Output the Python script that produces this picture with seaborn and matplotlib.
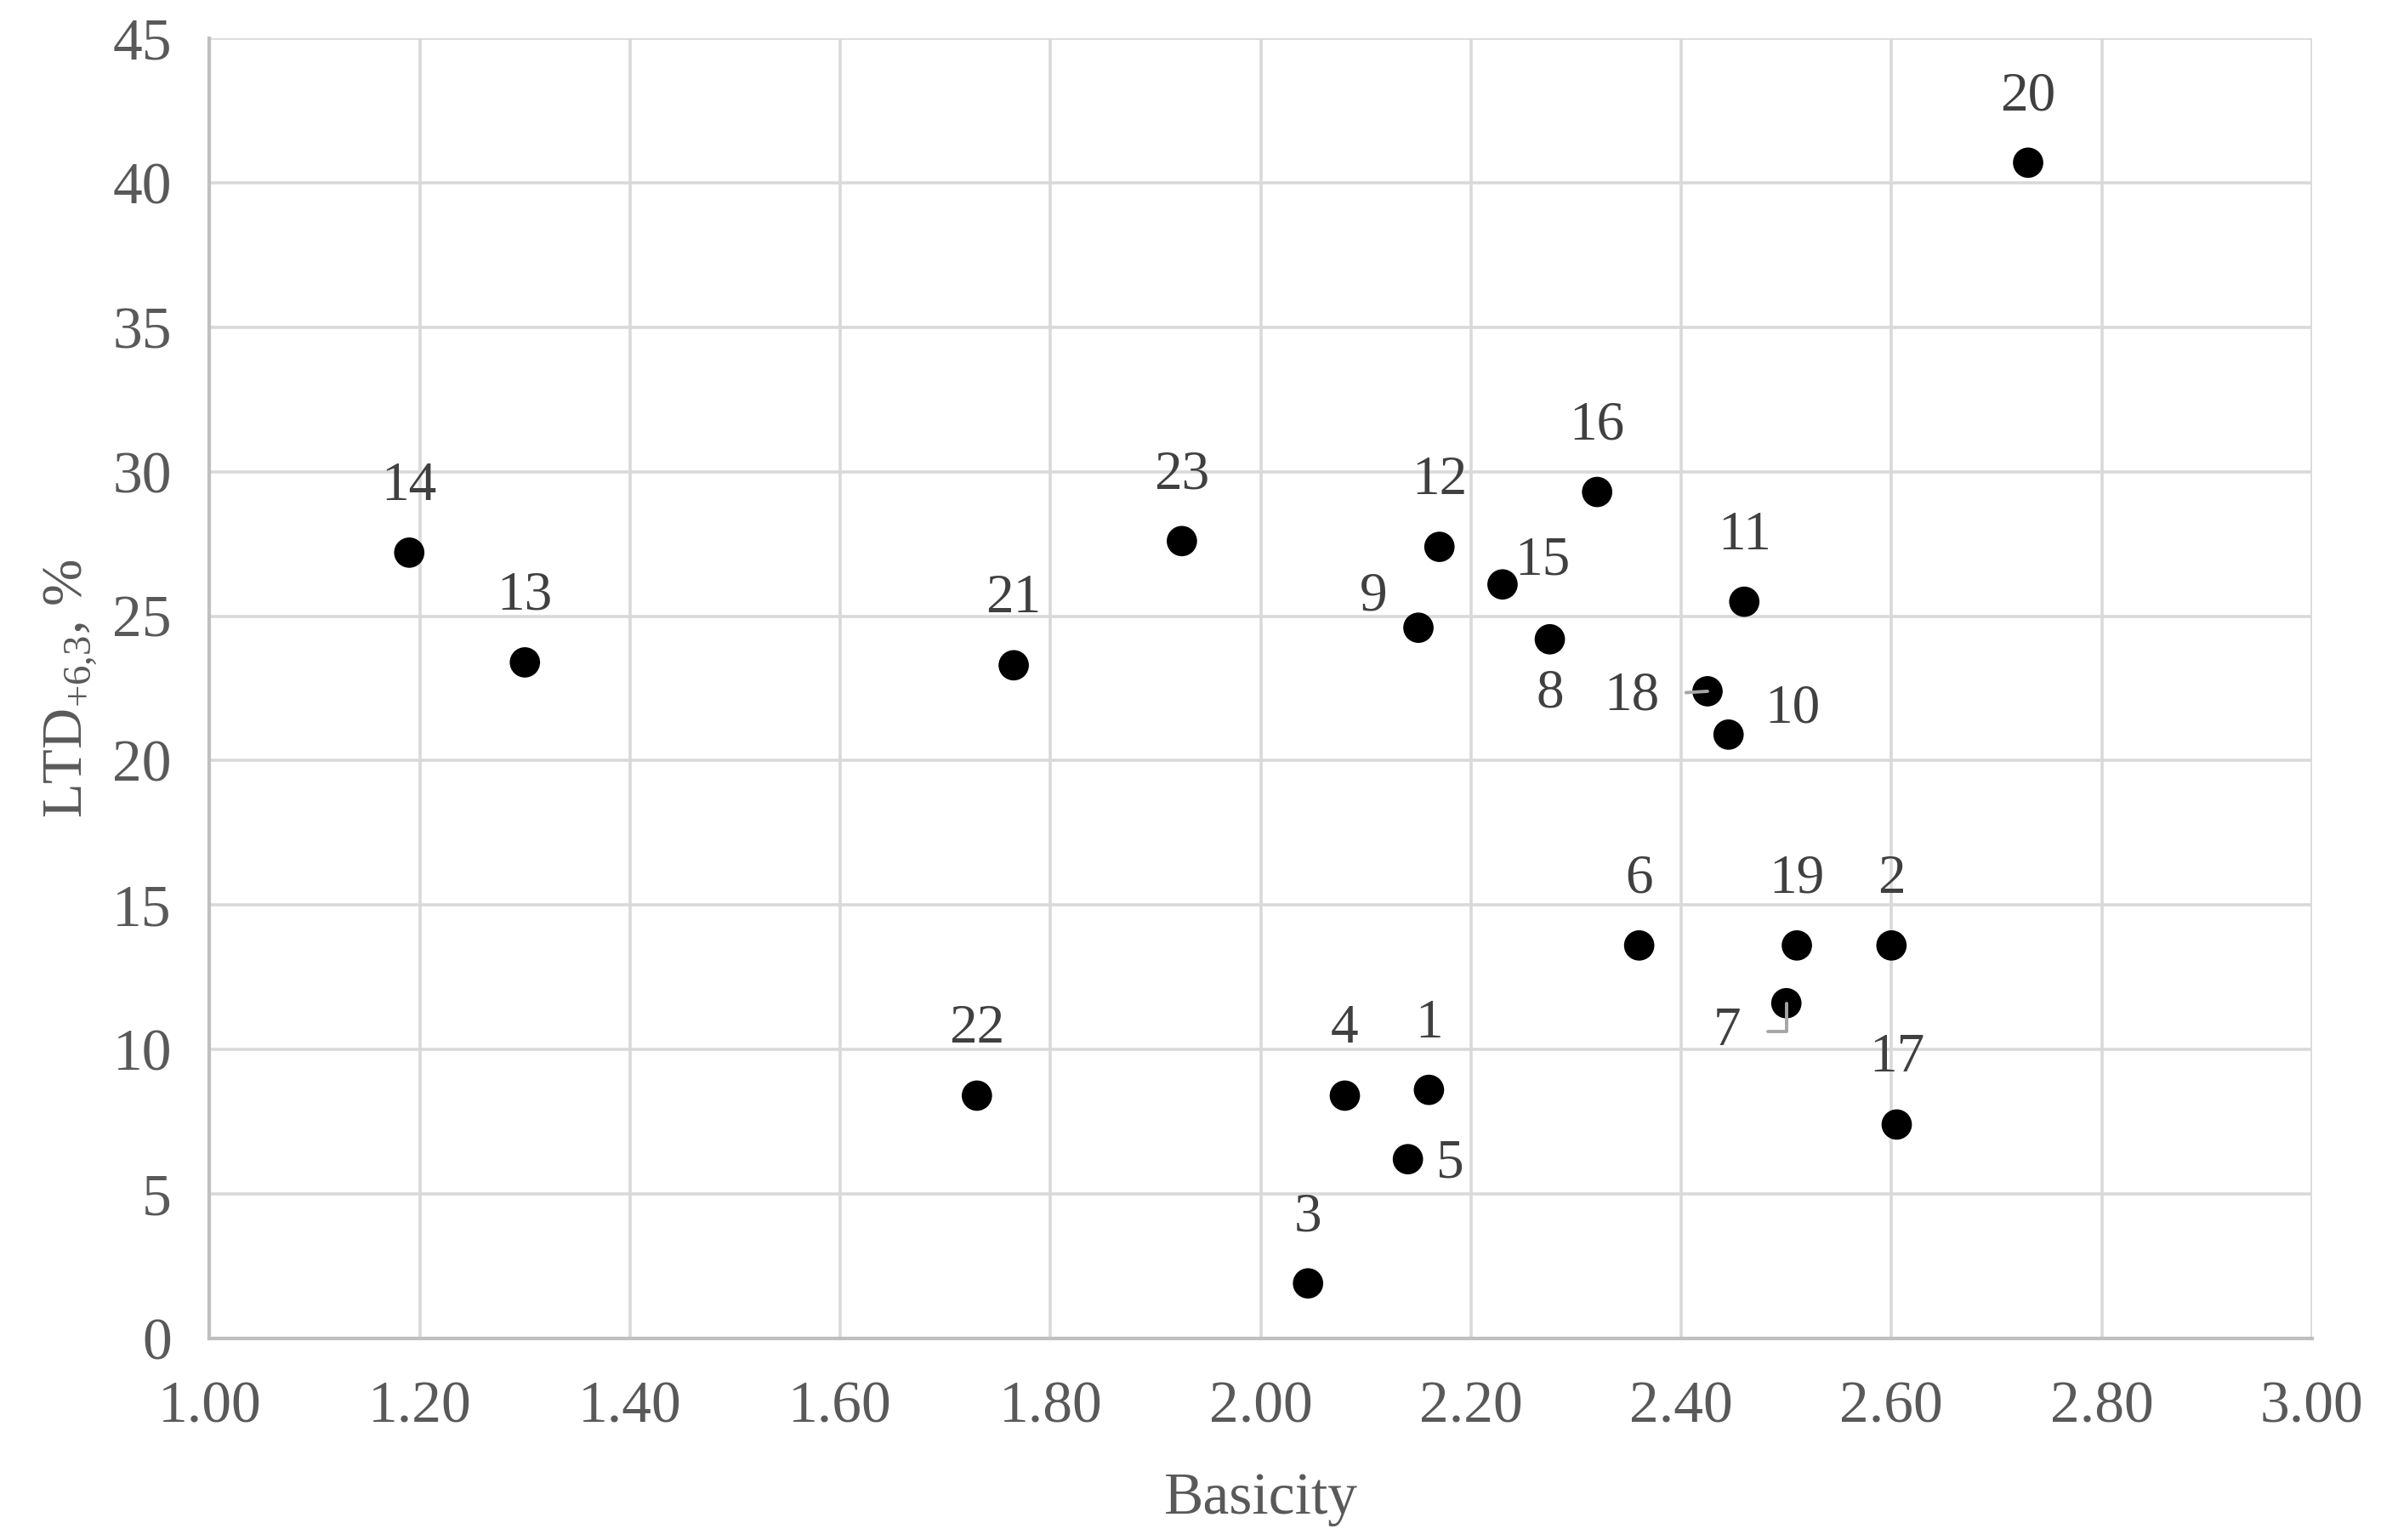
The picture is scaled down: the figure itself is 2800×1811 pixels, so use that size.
import seaborn as sns
import pandas as pd
import matplotlib.pyplot as plt

# Data
sample_ids = [1, 2, 3, 4, 5, 6, 7, 8, 9, 10, 11, 12, 13, 14, 15, 16, 17, 18, 19, 20, 21, 22, 23]
basicity = [2.16, 2.60, 2.045, 2.08, 2.14, 2.36, 2.50, 2.275, 2.15, 2.445, 2.46, 2.17, 1.30, 1.19,
            2.23, 2.32, 2.605, 2.425, 2.51, 2.73, 1.765, 1.73, 1.925]
ltd = [8.6, 13.6, 1.9, 8.4, 6.2, 13.6, 11.6, 24.2, 24.6, 20.9, 25.5, 27.4, 23.4, 27.2,
       26.1, 29.3, 7.4, 22.4, 13.6, 40.7, 23.3, 8.4, 27.6]

df = pd.DataFrame({'id': sample_ids, 'Basicity': basicity, 'LTD': ltd})

# label offsets in points (dx, dy); default is straight above
label_offsets = {9: (-19, 13), 15: (17, 10), 8: (0, -23), 18: (-32, -2),
                 10: (27, 11), 5: (18, -2), 7: (-25, -12)}
leader_ids = [18, 7]

sns.set_style('white')
plt.rcParams['font.family'] = ['Liberation Serif', 'DejaVu Serif']
plt.rcParams['mathtext.fontset'] = 'custom'
plt.rcParams['mathtext.rm'] = 'Liberation Serif'

fig, ax = plt.subplots(figsize=(14, 9.055), dpi=200)
fig.subplots_adjust(left=0.088, right=0.971, top=0.975, bottom=0.131)

sns.scatterplot(data=df, x='Basicity', y='LTD', color='black', s=165,
                edgecolor='none', ax=ax, zorder=3)

text_color = '#404040'
for i, x, y in zip(sample_ids, basicity, ltd):
    dx, dy = label_offsets.get(i, (0, 28))
    if i in leader_ids:
        cs = 'angle,angleA=0,angleB=90,rad=0' if i == 7 else 'arc3'
        ax.annotate(str(i), (x, y), xytext=(dx, dy), textcoords='offset points',
                    ha='center', va='center', fontsize=23.5, color=text_color,
                    arrowprops=dict(arrowstyle='-', color='#a6a6a6', lw=1.4,
                                    connectionstyle=cs, shrinkA=9, shrinkB=0))
    else:
        ax.annotate(str(i), (x, y), xytext=(dx, dy), textcoords='offset points',
                    ha='center', va='center', fontsize=23.5, color=text_color)

ax.set_xlim(1.0, 3.0)
ax.set_ylim(0, 45)
ax.set_xticks([1.0 + 0.2 * k for k in range(11)])
ax.set_xticklabels([f'{1.0 + 0.2 * k:.2f}' for k in range(11)])
ax.set_yticks(range(0, 46, 5))

ax.grid(True, color='#d9d9d9', lw=1.3)
ax.set_axisbelow(True)
for side in ['top', 'right']:
    ax.spines[side].set_visible(False)
for side in ['left', 'bottom']:
    ax.spines[side].set_color('#bfbfbf')
    ax.spines[side].set_linewidth(1.5)

ax.tick_params(axis='both', labelsize=25, colors='#595959', length=0)
ax.tick_params(axis='x', pad=18)
ax.tick_params(axis='y', pad=16)
ax.set_xlabel('Basicity', fontsize=25, color='#595959', labelpad=16)
ax.set_ylabel(r'LTD$_{\mathregular{+6{,}3}}$, %', fontsize=24, color='#595959', labelpad=6)

plt.savefig('out.png', dpi=200)
